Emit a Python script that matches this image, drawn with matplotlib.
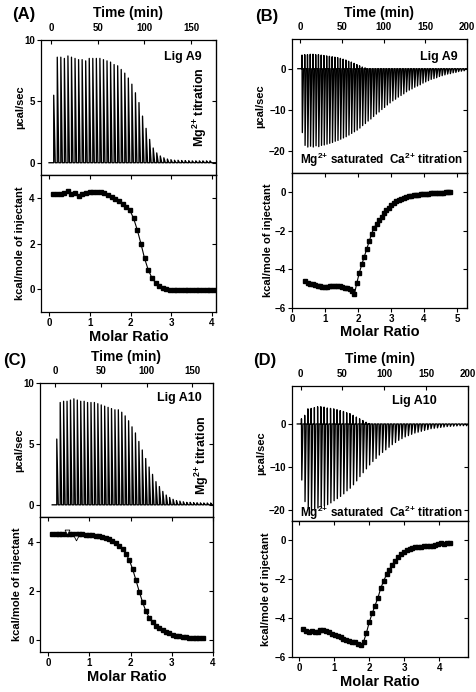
import numpy as np
import matplotlib
matplotlib.use("Agg")
import matplotlib.pyplot as plt

plt.rcParams["font.family"] = ["Liberation Sans", "DejaVu Sans"]
plt.rcParams["font.weight"] = "bold"
plt.rcParams["mathtext.fontset"] = "custom"
plt.rcParams["mathtext.rm"] = "Liberation Sans:bold"
plt.rcParams["mathtext.it"] = "Liberation Sans:bold"
plt.rcParams["mathtext.bf"] = "Liberation Sans:bold"

# ---- (A) Lig A9, Mg2+ titration ----
a_peak = [5.5, 8.6, 8.6, 8.5, 8.7, 8.6, 8.5, 8.4, 8.4, 8.3, 8.5, 8.5, 8.5, 8.5, 8.4,
          8.3, 8.2, 8.0, 7.9, 7.6, 7.3, 6.9, 6.4, 5.7, 4.9, 3.8, 2.8, 1.9, 1.2, 0.8,
          0.55, 0.4, 0.3, 0.25, 0.2, 0.2, 0.18, 0.17, 0.16, 0.15, 0.15, 0.15, 0.15, 0.15, 0.15]
a_heat = [4.15, 4.15, 4.18, 4.22, 4.30, 4.15, 4.20, 4.10, 4.18, 4.22, 4.25, 4.25, 4.27, 4.25, 4.22,
          4.12, 4.05, 3.95, 3.85, 3.72, 3.60, 3.45, 3.10, 2.60, 2.00, 1.35, 0.85, 0.50, 0.28, 0.12,
          0.05, 0.00, -0.02, -0.03, -0.03, -0.03, -0.03, -0.03, -0.03, -0.03, -0.03, -0.03, -0.03,
          -0.03, -0.03]

# ---- (B) Lig A9, Mg2+ saturated Ca2+ titration ----
b_up = [3.3, 3.4, 3.4, 3.5, 3.5, 3.4, 3.4, 3.3, 3.2, 3.1, 3.0, 2.9, 2.8, 2.7, 2.5,
        2.3, 2.1, 1.8, 1.6, 1.3, 1.0, 0.7, 0.4, 0.2] + [0.0] * 36
b_down = [-15.5, -18.6, -19.0, -18.8, -19.0, -18.7, -18.9, -18.6, -18.5, -18.3,
          -18.1, -17.9, -17.6, -17.4, -17.1, -16.8, -16.5, -16.1, -15.7, -15.3,
          -14.9, -14.4, -13.8, -13.3, -12.7, -12.2, -11.6, -11.0, -10.5, -9.9,
          -9.4, -8.8, -8.3, -7.8, -7.4, -6.9, -6.5, -6.1, -5.6, -5.2,
          -4.9, -4.5, -4.2, -3.9, -3.5, -3.2, -2.9, -2.6, -2.4, -2.2,
          -1.9, -1.7, -1.5, -1.3, -1.2, -1.0, -0.9, -0.7, -0.6, -0.5]
b_heat = [-4.61, -4.70, -4.76, -4.80, -4.84, -4.87, -4.90, -4.92, -4.92, -4.91,
          -4.89, -4.88, -4.87, -4.88, -4.89, -4.93, -4.96, -5.00, -5.05, -5.15,
          -5.30, -4.70, -4.18, -3.75, -3.35, -2.95, -2.55, -2.15, -1.84, -1.65,
          -1.46, -1.27, -1.10, -0.94, -0.80, -0.67, -0.56, -0.48, -0.41, -0.34,
          -0.28, -0.24, -0.21, -0.18, -0.16, -0.14, -0.13, -0.11, -0.10, -0.09,
          -0.08, -0.06, -0.05, -0.04, -0.03, -0.03, -0.02, -0.01, 0.00, 0.00]

# ---- (C) Lig A10, Mg2+ titration ----
c_peak = [5.4, 8.4, 8.5, 8.5, 8.6, 8.7, 8.6, 8.5, 8.5, 8.4, 8.4, 8.4, 8.3, 8.2, 8.1,
          8.0, 7.9, 7.8, 7.8, 7.6, 7.3, 6.9, 6.4, 5.9, 5.2, 4.5, 3.8, 3.1, 2.5, 1.9,
          1.5, 1.1, 0.8, 0.6, 0.45, 0.35, 0.3, 0.25, 0.2, 0.2, 0.18, 0.17, 0.16, 0.15,
          0.15, 0.15]
c_heat = [4.33, 4.33, 4.33, 4.32, 4.32, 4.32, 4.31, 4.31, 4.30, 4.30, 4.29, 4.28, 4.27,
          4.25, 4.23, 4.20, 4.15, 4.09, 4.02, 3.94, 3.83, 3.69, 3.51, 3.26, 2.90, 2.45,
          1.98, 1.55, 1.18, 0.92, 0.74, 0.60, 0.50, 0.41, 0.33, 0.28, 0.23, 0.19, 0.16,
          0.14, 0.12, 0.11, 0.11, 0.10, 0.10, 0.10]
c_skip_ratio = [0.45, 0.68]
c_skip_heat = [4.38, 4.15]

# ---- (D) Lig A10, Mg2+ saturated Ca2+ titration ----
d_up = [1.2, 2.0, 3.5, 3.6, 3.8, 4.0, 4.0, 3.9, 3.7, 3.6, 3.5, 3.3, 3.1, 2.9, 2.6,
        2.4, 2.0, 1.6, 1.2, 0.8, 0.4, 0.1] + [0.0] * 30
d_down = [-13.0, -18.0, -19.5, -20.0, -19.8, -19.5, -19.2, -19.0, -18.7, -18.3,
          -17.8, -17.3, -16.8, -16.2, -15.5, -14.9, -14.1, -13.2, -12.2, -11.3,
          -10.4, -9.5, -8.7, -8.0, -7.2, -6.6, -6.0, -5.4, -4.8, -4.3,
          -3.8, -3.4, -3.0, -2.7, -2.4, -2.1, -1.9, -1.7, -1.5, -1.3,
          -1.1, -1.0, -0.9, -0.8, -0.7, -0.6, -0.55, -0.5, -0.45, -0.4,
          -0.4, -0.4]
d_heat = [-4.58, -4.65, -4.71, -4.67, -4.69, -4.70, -4.63, -4.60, -4.65, -4.72,
          -4.80, -4.85, -4.92, -4.98, -5.05, -5.10, -5.18, -5.25, -5.22, -5.32,
          -5.38, -5.22, -4.75, -4.20, -3.75, -3.35, -2.95, -2.45, -2.08, -1.75,
          -1.50, -1.24, -1.04, -0.86, -0.71, -0.58, -0.50, -0.44, -0.39, -0.36,
          -0.34, -0.32, -0.31, -0.30, -0.28, -0.27, -0.22, -0.18, -0.13, -0.17,
          -0.15, -0.12]

# injection schedules (first injection, spacing) and molar ratio ranges
a_time = 3 + 3.8 * np.arange(len(a_peak))
b_time = 2 + 3.29 * np.arange(len(b_down))
c_time = 2 + 3.73 * np.arange(len(c_peak))
d_time = 1 + 3.86 * np.arange(len(d_down))
a_ratio = np.linspace(0.10, 4.05, len(a_heat))
b_ratio = np.linspace(0.40, 4.80, len(b_heat))
c_ratio = np.linspace(0.10, 3.75, len(c_heat))
d_ratio = np.linspace(0.12, 4.30, len(d_heat))

W, H = 477, 692
fig = plt.figure(figsize=(W / 100, H / 100), dpi=100)


def box(l, t, r, b):
    return [l / W, 1 - b / H, (r - l) / W, (b - t) / H]


def trace(ax, t, up, down=None):
    xs, ys = [t[0] - 5], [0]
    for i in range(len(t)):
        if down is None:
            xs += [t[i], t[i], t[i] + 1.6]
            ys += [0, up[i], 0]
        else:
            xs += [t[i], t[i], t[i] + 0.4, t[i] + 1.8]
            ys += [0, up[i], down[i], 0]
    xs.append(t[-1] + 10)
    ys.append(0)
    ax.plot(xs, ys, color="black", lw=0.95)


def mirror(ax, xt, yt, top=True):
    r = ax.secondary_yaxis("right")
    r.set_yticks(yt)
    r.tick_params(direction="in", length=3, labelright=False, width=0.8)
    if top:
        s = ax.secondary_xaxis("top")
        s.set_xticks(xt)
        s.tick_params(direction="in", length=3, labeltop=False, width=0.8)


def top_axes(pos, xlim, xt, ylim, yt, lab_x):
    ax = fig.add_axes(pos)
    ax.set_xlim(xlim)
    ax.set_ylim(ylim)
    ax.set_xticks(xt)
    ax.set_yticks(yt)
    ax.xaxis.tick_top()
    ax.xaxis.set_label_position("top")
    ax.tick_params(axis="x", direction="in", length=3, labelsize=7, pad=5, width=0.8)
    ax.tick_params(axis="y", direction="out", length=3, labelsize=7, pad=1.5, width=0.8)
    mirror(ax, xt, yt, top=False)
    ax.set_xlabel("Time (min)", fontsize=10, fontweight="bold", labelpad=4)
    ax.set_ylabel("µcal/sec", fontsize=8, fontweight="bold")
    ax.yaxis.set_label_coords(lab_x, 0.5)
    return ax


def bottom_axes(pos, xlim, xt, ylim, yt, lab_x):
    ax = fig.add_axes(pos)
    ax.set_xlim(xlim)
    ax.set_ylim(ylim)
    ax.set_xticks(xt)
    ax.set_yticks(yt)
    ax.tick_params(direction="out", length=3, labelsize=7, pad=1.5, width=0.8)
    mirror(ax, xt, yt)
    ax.set_xlabel("Molar Ratio", fontsize=10.5, fontweight="bold", labelpad=1)
    ax.set_ylabel("kcal/mole of injectant", fontsize=8, fontweight="bold")
    ax.yaxis.set_label_coords(lab_x, 0.5)
    return ax


def heat(ax, x, y):
    ax.plot(x, y, color="black", lw=0.8, marker="s", markersize=3.2)


sat_text = "Mg$^{2{+}}$ saturated  Ca$^{2{+}}$ titration"
mg_text = "Mg$^{2{+}}$ titration"

# (A)
ax = top_axes(box(41, 40, 216, 175), (-10.6, 176.6), [0, 50, 100, 150], (-1, 10), [0, 5, 10], -0.091)
trace(ax, a_time, a_peak)
ax.text(0.92, 0.874, "Lig A9", transform=ax.transAxes, ha="right", va="center", fontsize=9, fontweight="bold")
ax.text(0.906, 0.504, mg_text, transform=ax.transAxes, ha="center", va="center", rotation=90,
        fontsize=9, fontweight="bold")
ax = bottom_axes(box(41, 175, 216, 312), (-0.2, 4.1), [0, 1, 2, 3, 4], (-1, 5), [0, 2, 4], -0.091)
heat(ax, a_ratio, a_heat)

# (B)
ax = top_axes(box(292, 39, 467, 173), (-10, 200), [0, 50, 100, 150, 200], (-25.3, 7.2), [-20, -10, 0], -0.151)
trace(ax, b_time, b_up, b_down)
ax.text(0.948, 0.864, "Lig A9", transform=ax.transAxes, ha="right", va="center", fontsize=9, fontweight="bold")
ax.text(0.508, 0.10, sat_text, transform=ax.transAxes, ha="center", va="center", fontsize=8.5, fontweight="bold")
ax = bottom_axes(box(292, 173, 467, 307.5), (0, 5.3), [0, 1, 2, 3, 4, 5], (-6, 1), [-6, -4, -2, 0], -0.11)
heat(ax, b_ratio, b_heat)

# (C)
ax = top_axes(box(40, 383, 213, 517), (-16.3, 172.4), [0, 50, 100, 150], (-1, 10), [0, 5, 10], -0.092)
trace(ax, c_time, c_peak)
ax.text(0.935, 0.886, "Lig A10", transform=ax.transAxes, ha="right", va="center", fontsize=9, fontweight="bold")
ax.text(0.935, 0.463, mg_text, transform=ax.transAxes, ha="center", va="center", rotation=90,
        fontsize=9, fontweight="bold")
ax = bottom_axes(box(40, 517, 213, 652), (-0.2, 4.0), [0, 1, 2, 3, 4], (-0.47, 5), [0, 2, 4], -0.104)
heat(ax, c_ratio, c_heat)
ax.plot(c_skip_ratio, c_skip_heat, ls="none", marker="v", markersize=3.5, mfc="white", mec="black", mew=0.6)

# (D)
ax = top_axes(box(292, 386, 468, 521), (-10.3, 200), [0, 50, 100, 150, 200], (-22.5, 8.8), [-20, -10, 0], -0.145)
trace(ax, d_time, d_up, d_down)
ax.text(0.825, 0.889, "Lig A10", transform=ax.transAxes, ha="right", va="center", fontsize=9, fontweight="bold")
ax.text(0.505, 0.06, sat_text, transform=ax.transAxes, ha="center", va="center", fontsize=8.5, fontweight="bold")
ax = bottom_axes(box(292, 521, 468, 657), (-0.2, 4.82), [0, 1, 2, 3, 4], (-6, 1), [-6, -4, -2, 0], -0.117)
heat(ax, d_ratio, d_heat)

for lab, x, y in [("(A)", 12, 14.5), ("(B)", 255, 16.5), ("(C)", 3, 361), ("(D)", 253, 360)]:
    fig.text(x / W, 1 - y / H, lab, ha="left", va="center", fontsize=12, fontweight="bold")

for a in fig.axes:
    for s in a.spines.values():
        s.set_linewidth(0.9)

fig.savefig("out.png", dpi=100)
